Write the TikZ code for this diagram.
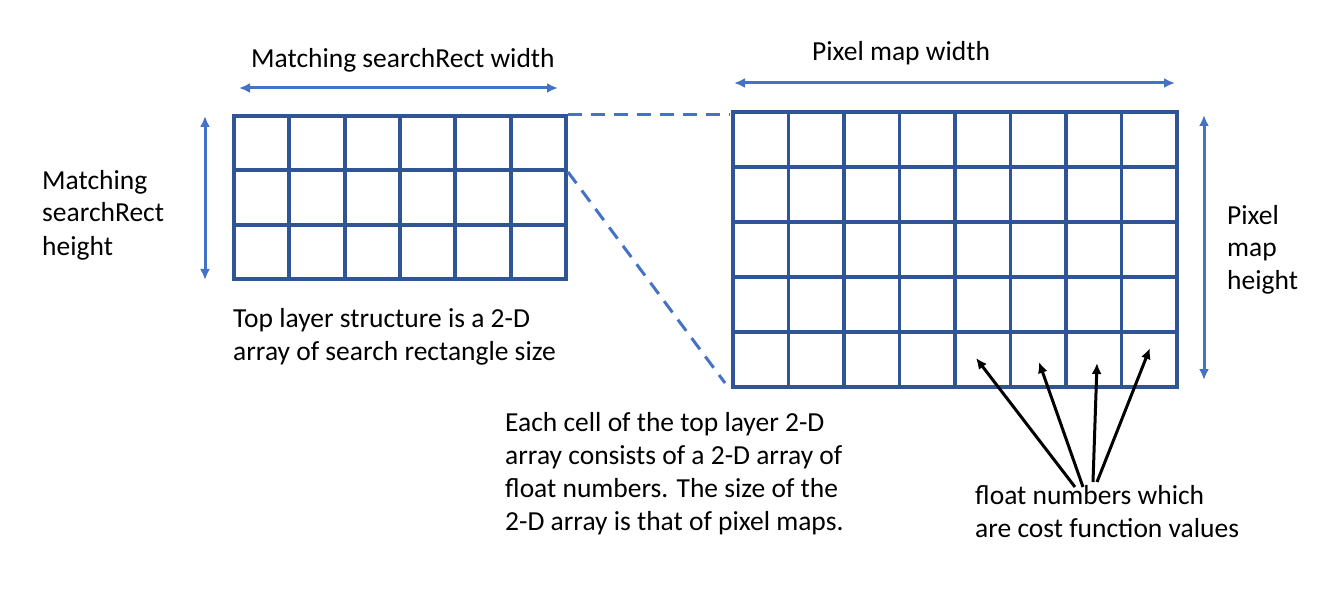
\documentclass[tikz,border=0pt]{standalone}
\usepackage{fontspec}
\setmainfont{Carlito}
\usetikzlibrary{calc,arrows.meta}
\definecolor{gridblue}{HTML}{2F5597}
\definecolor{dimblue}{HTML}{4472C4}
\tikzset{
  cellgrid/.style={draw=gridblue, line width=3.8pt},
  dimarrow/.style={<->, draw=dimblue, line width=3pt},
  linkline/.style={draw=dimblue, line width=3pt, dash pattern=on 14pt off 9pt},
  txt/.style={anchor=base west, align=left, inner sep=0pt, font=\fontsize{27.5}{33}\selectfont}
}
\begin{document}
\begin{tikzpicture}[
                        x=1pt, y=-1pt,
                        >={Latex[length=11pt,width=10pt]}
                    ]
                    \useasboundingbox (0,0) rectangle (1331,596);
                    % Blocks
                    \node [rectangle, cellgrid, outer sep=0pt, inner sep=0pt, minimum width=332pt, minimum height=163pt] (search) at (400,197.5) {};
                    \node [rectangle, cellgrid, outer sep=0pt, inner sep=0pt, minimum width=444pt, minimum height=275pt] (pixmap) at (955,249.5) {};
                    \foreach \i in {1,...,5}
                        \draw [cellgrid] ($(search.north west)!\i/6!(search.north east)$) -- ($(search.south west)!\i/6!(search.south east)$);
                    \foreach \j in {1,2}
                        \draw [cellgrid] ($(search.north west)!\j/3!(search.south west)$) -- ($(search.north east)!\j/3!(search.south east)$);
                    \foreach \i in {1,...,7}
                        \draw [cellgrid] ($(pixmap.north west)!\i/8!(pixmap.north east)$) -- ($(pixmap.south west)!\i/8!(pixmap.south east)$);
                    \foreach \j in {1,...,4}
                        \draw [cellgrid] ($(pixmap.north west)!\j/5!(pixmap.south west)$) -- ($(pixmap.north east)!\j/5!(pixmap.south east)$);

                    % Labels (anchored at the baseline of their last line)
                    \node [txt] (searchw) at (251,68) {Matching searchRect width};
                    \node [txt] (pixw) at (812,61) {Pixel map width};
                    \node [txt] (searchh) at (42,255) {Matching\\searchRect\\height};
                    \node [txt] (pixh) at (1227,290) {Pixel\\map\\height};
                    \node [txt] (toplabel) at (233,360) {Top layer structure is a 2-D\\array of search rectangle size};
                    \node [txt] (celllabel) at (505,530) {Each cell of the top layer 2-D\\array consists of a 2-D array of\\float numbers. The size of the\\2-D array is that of pixel maps.};
                    \node [txt] (floatlabel) at (975,537) {float numbers which\\are cost function values};

                    % Connections
                    \coordinate (sw-a) at (239,88);
                    \coordinate (sw-b) at (558,88);
                    \coordinate (sh-a) at (205,116);
                    \coordinate (sh-b) at (205,280);
                    \coordinate (pw-a) at (734,83);
                    \coordinate (pw-b) at (1175,83);
                    \coordinate (ph-a) at (1204,115);
                    \coordinate (ph-b) at (1204,380);
                    \draw [dimarrow] (sw-a) -- (sw-b);
                    \draw [dimarrow] (sh-a) -- (sh-b);
                    \draw [dimarrow] (pw-a) -- (pw-b);
                    \draw [dimarrow] (ph-a) -- (ph-b);

                    \coordinate (link-a) at (568,115);
                    \coordinate (link-b) at (730,115);
                    \coordinate (link-c) at (568,172);
                    \coordinate (link-d) at (725,383);
                    \draw [linkline] (link-a) -- (link-b);
                    \draw [linkline] (link-c) -- (link-d);

                    \foreach \tx/\ty/\fx/\fy [count=\k] in {976/358/1075/487, 1039/362/1083/487, 1097/363/1093/482, 1150/348/1097/482} {
                        \coordinate (tip\k) at (\tx,\ty);
                        \coordinate (fan\k) at (\fx,\fy);
                        \draw [->, line width=3pt] (fan\k) -- (tip\k);
                    }
                \end{tikzpicture}
\end{document}
